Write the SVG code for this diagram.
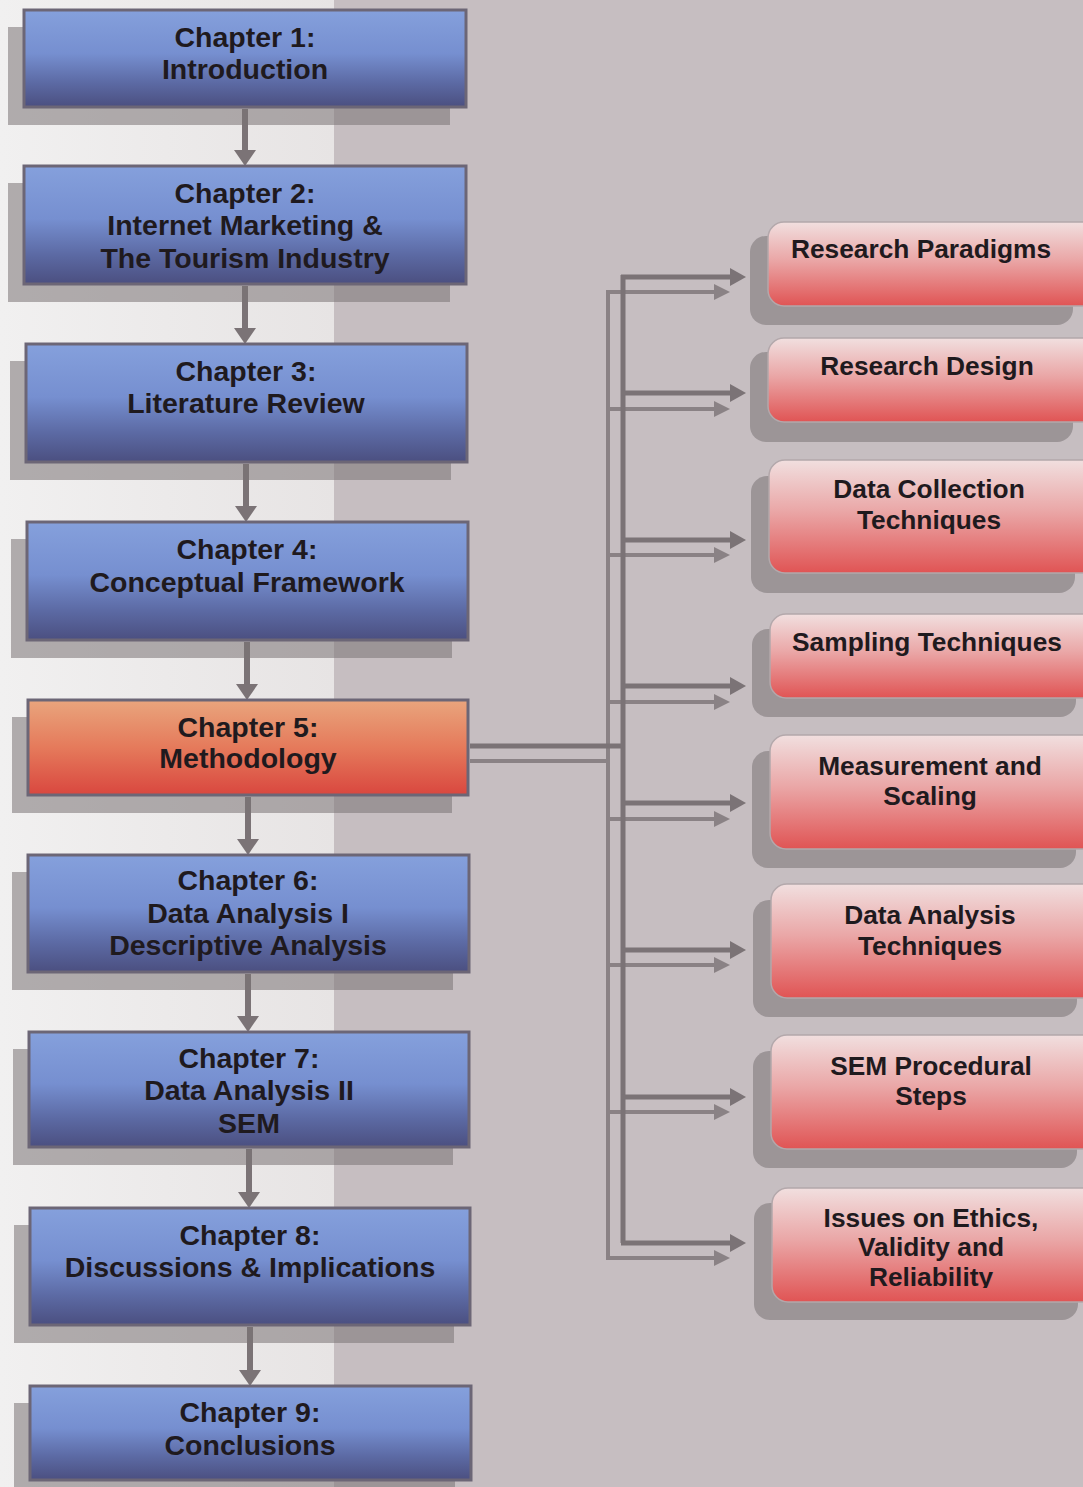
<svg xmlns="http://www.w3.org/2000/svg" width="1083" height="1487" viewBox="0 0 1083 1487">
  <defs>
    <linearGradient id="blueFill" x1="0" y1="0" x2="0" y2="1">
      <stop offset="0" stop-color="#85a0dc"/>
      <stop offset="0.45" stop-color="#768fd0"/>
      <stop offset="0.75" stop-color="#5c6aa4"/>
      <stop offset="1" stop-color="#4b4f80"/>
    </linearGradient>
    <linearGradient id="orangeFill" x1="0" y1="0" x2="0" y2="1">
      <stop offset="0" stop-color="#e9a57d"/>
      <stop offset="0.5" stop-color="#e57a5b"/>
      <stop offset="1" stop-color="#d9473f"/>
    </linearGradient>
    <linearGradient id="redFill" x1="0" y1="0" x2="0" y2="1">
      <stop offset="0" stop-color="#f1dfdf"/>
      <stop offset="0.45" stop-color="#eaa7a7"/>
      <stop offset="1" stop-color="#e05454"/>
    </linearGradient>
    <linearGradient id="leftPanel" x1="0" y1="0" x2="1" y2="0">
      <stop offset="0" stop-color="#f1f0f0"/>
      <stop offset="1" stop-color="#e7e4e4"/>
    </linearGradient>
    <!-- all heads are drawn pointing along +x; orient="auto" turns them with the line -->
    <marker id="headDown" markerUnits="userSpaceOnUse" markerWidth="16" markerHeight="22" refX="0" refY="11" orient="auto" viewBox="0 0 16 22" overflow="visible">
      <path d="M0,0 L16,11 L0,22 Z" fill="#7b7376"/>
    </marker>
    <marker id="headRight" markerUnits="userSpaceOnUse" markerWidth="16" markerHeight="18" refX="0" refY="9" orient="auto" viewBox="0 0 16 18" overflow="visible">
      <path d="M0,0 L16,9 L0,18 Z" fill="#7b7376"/>
    </marker>
    <marker id="headRightLight" markerUnits="userSpaceOnUse" markerWidth="16" markerHeight="16" refX="0" refY="8" orient="auto" viewBox="0 0 16 16" overflow="visible">
      <path d="M0,0 L16,8 L0,16 Z" fill="#8a8285"/>
    </marker>
    <clipPath id="clipLastLine">
      <rect x="760" y="1180" width="323" height="108"/>
    </clipPath>
  </defs>
  <style>
    .chap { fill: url(#blueFill); stroke: #6c6676; stroke-width: 3; }
    .chapHot { fill: url(#orangeFill); stroke: #6c6676; stroke-width: 3; }
    .shadow { fill: #7a7275; fill-opacity: 0.55; }
    .topic { fill: url(#redFill); stroke: #b3a8ab; stroke-width: 1.5; }
    .label { font-family: "Liberation Sans", Arial, sans-serif; font-weight: bold; fill: #1f1a1e; text-anchor: middle; }
    .lc { font-size: 28.5px; }
    .lt { font-size: 26.3px; }
    .down { stroke: #7b7376; stroke-width: 6; fill: none; marker-end: url(#headDown); }
    .trunk { stroke: #7b7376; stroke-width: 5; fill: none; }
    .trunkLight { stroke: #8a8285; stroke-width: 4; fill: none; }
    .branch { stroke: #7b7376; stroke-width: 5; fill: none; marker-end: url(#headRight); }
    .branchLight { stroke: #8a8285; stroke-width: 4; fill: none; marker-end: url(#headRightLight); }
  </style>

  <!-- backdrop -->
  <rect x="0" y="0" width="1083" height="1487" fill="#c6bec1"/>
  <rect x="0" y="0" width="334" height="1487" fill="url(#leftPanel)"/>

  <!-- connectors -->
  <g id="connectors">
    <!-- chapter sequence -->
    <line class="down" x1="245" y1="109" x2="245" y2="150"/>
    <line class="down" x1="245" y1="286" x2="245" y2="328"/>
    <line class="down" x1="246" y1="464" x2="246" y2="506"/>
    <line class="down" x1="247" y1="642" x2="247" y2="684"/>
    <line class="down" x1="248" y1="797" x2="248" y2="839"/>
    <line class="down" x1="248" y1="974" x2="248" y2="1016"/>
    <line class="down" x1="249" y1="1149" x2="249" y2="1192"/>
    <line class="down" x1="250" y1="1327" x2="250" y2="1370"/>

    <!-- methodology fan-out (printed twice, offset) -->
    <path class="trunkLight" d="M470,761 H608 M608,291 V1258"/>
    <line class="branchLight" x1="606" y1="292" x2="714" y2="292"/>
    <line class="branchLight" x1="606" y1="409" x2="714" y2="409"/>
    <line class="branchLight" x1="606" y1="555" x2="714" y2="555"/>
    <line class="branchLight" x1="606" y1="702" x2="714" y2="702"/>
    <line class="branchLight" x1="606" y1="819" x2="714" y2="819"/>
    <line class="branchLight" x1="606" y1="965" x2="714" y2="965"/>
    <line class="branchLight" x1="606" y1="1112" x2="714" y2="1112"/>
    <line class="branchLight" x1="606" y1="1258" x2="714" y2="1258"/>

    <path class="trunk" d="M470,746 H623 M623,275 V1243"/>
    <line class="branch" x1="621" y1="277" x2="730" y2="277"/>
    <line class="branch" x1="621" y1="393" x2="730" y2="393"/>
    <line class="branch" x1="621" y1="540" x2="730" y2="540"/>
    <line class="branch" x1="621" y1="686" x2="730" y2="686"/>
    <line class="branch" x1="621" y1="803" x2="730" y2="803"/>
    <line class="branch" x1="621" y1="950" x2="730" y2="950"/>
    <line class="branch" x1="621" y1="1097" x2="730" y2="1097"/>
    <line class="branch" x1="621" y1="1243" x2="730" y2="1243"/>
  </g>

  <!-- chapters -->
  <g id="chapter1">
    <rect class="shadow" x="8" y="27" width="442" height="98"/>
    <rect class="chap" x="24" y="10" width="442" height="97"/>
    <text class="label lc" x="245" y="47">Chapter 1:</text>
    <text class="label lc" x="245" y="79">Introduction</text>
  </g>
  <g id="chapter2">
    <rect class="shadow" x="8" y="183" width="442" height="119"/>
    <rect class="chap" x="24" y="166" width="442" height="118"/>
    <text class="label lc" x="245" y="203">Chapter 2:</text>
    <text class="label lc" x="245" y="235">Internet Marketing &amp;</text>
    <text class="label lc" x="245" y="268">The Tourism Industry</text>
  </g>
  <g id="chapter3">
    <rect class="shadow" x="10" y="361" width="441" height="119"/>
    <rect class="chap" x="26" y="344" width="441" height="118"/>
    <text class="label lc" x="246" y="381">Chapter 3:</text>
    <text class="label lc" x="246" y="413">Literature Review</text>
  </g>
  <g id="chapter4">
    <rect class="shadow" x="11" y="539" width="441" height="119"/>
    <rect class="chap" x="27" y="522" width="441" height="118"/>
    <text class="label lc" x="247" y="559">Chapter 4:</text>
    <text class="label lc" x="247" y="592">Conceptual Framework</text>
  </g>
  <g id="chapter5">
    <rect class="shadow" x="12" y="717" width="440" height="96"/>
    <rect class="chapHot" x="28" y="700" width="440" height="95"/>
    <text class="label lc" x="248" y="737">Chapter 5:</text>
    <text class="label lc" x="248" y="768">Methodology</text>
  </g>
  <g id="chapter6">
    <rect class="shadow" x="12" y="872" width="441" height="118"/>
    <rect class="chap" x="28" y="855" width="441" height="117"/>
    <text class="label lc" x="248" y="890">Chapter 6:</text>
    <text class="label lc" x="248" y="923">Data Analysis I</text>
    <text class="label lc" x="248" y="955">Descriptive Analysis</text>
  </g>
  <g id="chapter7">
    <rect class="shadow" x="13" y="1049" width="440" height="116"/>
    <rect class="chap" x="29" y="1032" width="440" height="115"/>
    <text class="label lc" x="249" y="1068">Chapter 7:</text>
    <text class="label lc" x="249" y="1100">Data Analysis II</text>
    <text class="label lc" x="249" y="1133">SEM</text>
  </g>
  <g id="chapter8">
    <rect class="shadow" x="14" y="1225" width="440" height="118"/>
    <rect class="chap" x="30" y="1208" width="440" height="117"/>
    <text class="label lc" x="250" y="1245">Chapter 8:</text>
    <text class="label lc" x="250" y="1277">Discussions &amp; Implications</text>
  </g>
  <g id="chapter9">
    <rect class="shadow" x="14" y="1403" width="441" height="95"/>
    <rect class="chap" x="30" y="1386" width="441" height="94"/>
    <text class="label lc" x="250" y="1422">Chapter 9:</text>
    <text class="label lc" x="250" y="1455">Conclusions</text>
  </g>

  <!-- methodology topics -->
  <g id="topicParadigms">
    <rect class="shadow" x="750" y="236" width="323" height="89" rx="16"/>
    <rect class="topic" x="768" y="222" width="330" height="84" rx="16"/>
    <text class="label lt" x="921" y="258">Research Paradigms</text>
  </g>
  <g id="topicDesign">
    <rect class="shadow" x="750" y="352" width="323" height="90" rx="16"/>
    <rect class="topic" x="768" y="338" width="330" height="84" rx="16"/>
    <text class="label lt" x="927" y="375">Research Design</text>
  </g>
  <g id="topicCollection">
    <rect class="shadow" x="751" y="476" width="324" height="117" rx="16"/>
    <rect class="topic" x="769" y="460" width="330" height="113" rx="16"/>
    <text class="label lt" x="929" y="498">Data Collection</text>
    <text class="label lt" x="929" y="529">Techniques</text>
  </g>
  <g id="topicSampling">
    <rect class="shadow" x="752" y="629" width="324" height="88" rx="16"/>
    <rect class="topic" x="770" y="614" width="330" height="84" rx="16"/>
    <text class="label lt" x="927" y="651">Sampling Techniques</text>
  </g>
  <g id="topicMeasurement">
    <rect class="shadow" x="752" y="751" width="324" height="117" rx="16"/>
    <rect class="topic" x="770" y="735" width="330" height="114" rx="16"/>
    <text class="label lt" x="930" y="775">Measurement and</text>
    <text class="label lt" x="930" y="805">Scaling</text>
  </g>
  <g id="topicAnalysis">
    <rect class="shadow" x="753" y="900" width="324" height="117" rx="16"/>
    <rect class="topic" x="771" y="884" width="330" height="114" rx="16"/>
    <text class="label lt" x="930" y="924">Data Analysis</text>
    <text class="label lt" x="930" y="955">Techniques</text>
  </g>
  <g id="topicSEM">
    <rect class="shadow" x="753" y="1051" width="324" height="117" rx="16"/>
    <rect class="topic" x="771" y="1035" width="330" height="114" rx="16"/>
    <text class="label lt" x="931" y="1075">SEM Procedural</text>
    <text class="label lt" x="931" y="1105">Steps</text>
  </g>
  <g id="topicEthics">
    <rect class="shadow" x="754" y="1203" width="324" height="117" rx="16"/>
    <rect class="topic" x="772" y="1188" width="330" height="114" rx="16"/>
    <text class="label lt" x="931" y="1227">Issues on Ethics,</text>
    <text class="label lt" x="931" y="1256">Validity and</text>
    <text class="label lt" x="931" y="1286" clip-path="url(#clipLastLine)">Reliability</text>
  </g>
</svg>
